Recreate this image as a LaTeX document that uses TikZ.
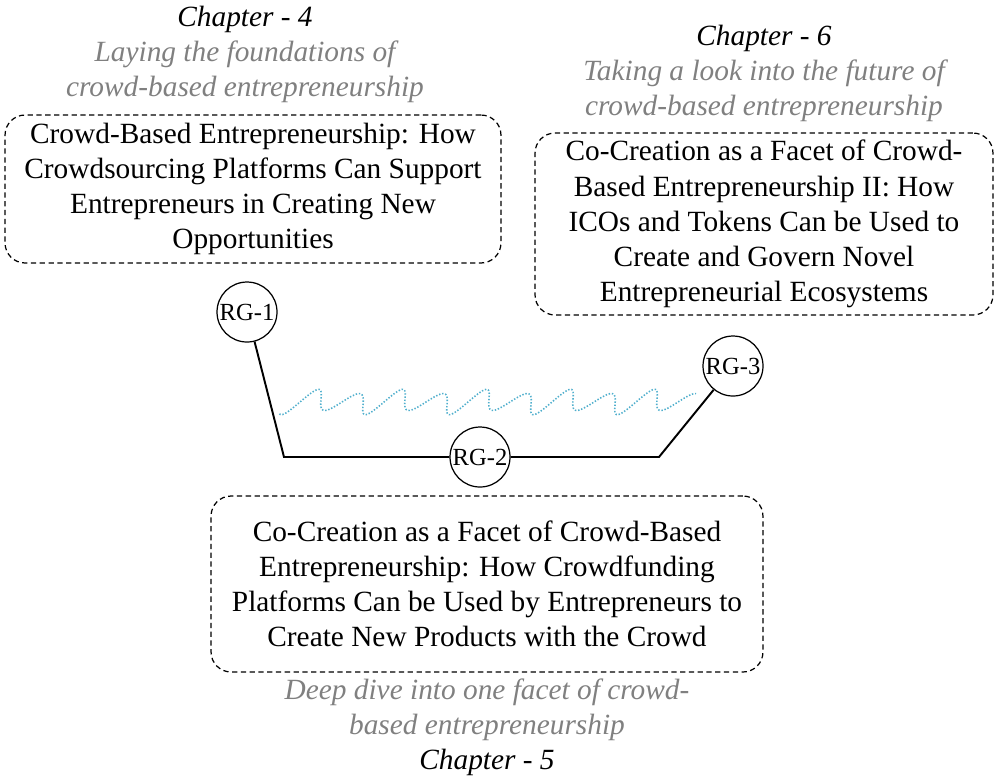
\documentclass[tikz,border=0pt]{standalone}
\usepackage{fontspec}
\setmainfont{Liberation Serif}
\usetikzlibrary{positioning}
\definecolor{notegray}{RGB}{128,128,128}
\definecolor{wavecyan}{RGB}{80,175,205}

\begin{document}
\begin{tikzpicture}[x=0.02cm, y=-0.02cm,
  paper/.style={draw, dash pattern=on 3pt off 2pt, rounded corners=0.4cm, line width=0.7pt,
    align=center, inner sep=0pt, font=\fontsize{16.7}{20}\selectfont},
  chapnote/.style={align=center, inner sep=0pt, text=notegray, font=\itshape\fontsize{16.7}{20}\selectfont},
  rg/.style={circle, draw, line width=0.7pt, minimum size=1.2cm, inner sep=0pt, font=\fontsize{14}{16}\selectfont},
  link/.style={line width=1.1pt},
  wave/.style={wavecyan, line width=0.9pt, dash pattern=on 0.8pt off 1pt}]
\useasboundingbox (0,0) rectangle (996,775);

% the three papers
\node[paper, minimum width=9.92cm, minimum height=2.96cm] (ch4) at (253,189)
  {Crowd-Based Entrepreneurship: How\\ Crowdsourcing Platforms Can Support\\ Entrepreneurs in Creating New\\ Opportunities};
\node[paper, minimum width=9.16cm, minimum height=3.64cm] (ch6) at (764,224)
  {Co-Creation as a Facet of Crowd-\\ Based Entrepreneurship II: How\\ ICOs and Tokens Can be Used to\\ Create and Govern Novel\\ Entrepreneurial Ecosystems};
\node[paper, minimum width=11.04cm, minimum height=3.52cm] (ch5) at (487,584)
  {Co-Creation as a Facet of Crowd-Based\\ Entrepreneurship: How Crowdfunding\\ Platforms Can be Used by Entrepreneurs to\\ Create New Products with the Crowd};

\node[chapnote, above=0.22cm of ch4, xshift=-0.16cm] (note4)
  {{\color{black}Chapter - 4}\\ Laying the foundations of\\ crowd-based entrepreneurship};
\node[chapnote, above=0.2cm of ch6] (note6)
  {{\color{black}Chapter - 6}\\ Taking a look into the future of\\ crowd-based entrepreneurship};
\node[chapnote, below=0.11cm of ch5] (note5)
  {Deep dive into one facet of crowd-\\ based entrepreneurship\\ {\color{black}Chapter - 5}};

% research path
\node[rg] (rg1) at (247,312) {RG-1};
\node[rg] (rg2) at (480,457) {RG-2};
\node[rg] (rg3) at (733,366) {RG-3};
\coordinate (bendl) at (284,457);
\coordinate (bendr) at (659,457);
\draw[link] (rg1) -- (bendl) -- (rg2) -- (bendr) -- (rg3);

% slanted wave between the two legs, big and small teeth in turn
\coordinate (wavestart) at (300,402);
\begin{scope}[shift={(wavestart)}]
  \draw[wave] plot[domain=-60:1665, samples=700, smooth]
    ({0.23333*\x + 7.5*sin(2*\x)}, {-10.5*sin(2*\x) - 3*sin(\x)});
\end{scope}
\end{tikzpicture}
\end{document}
